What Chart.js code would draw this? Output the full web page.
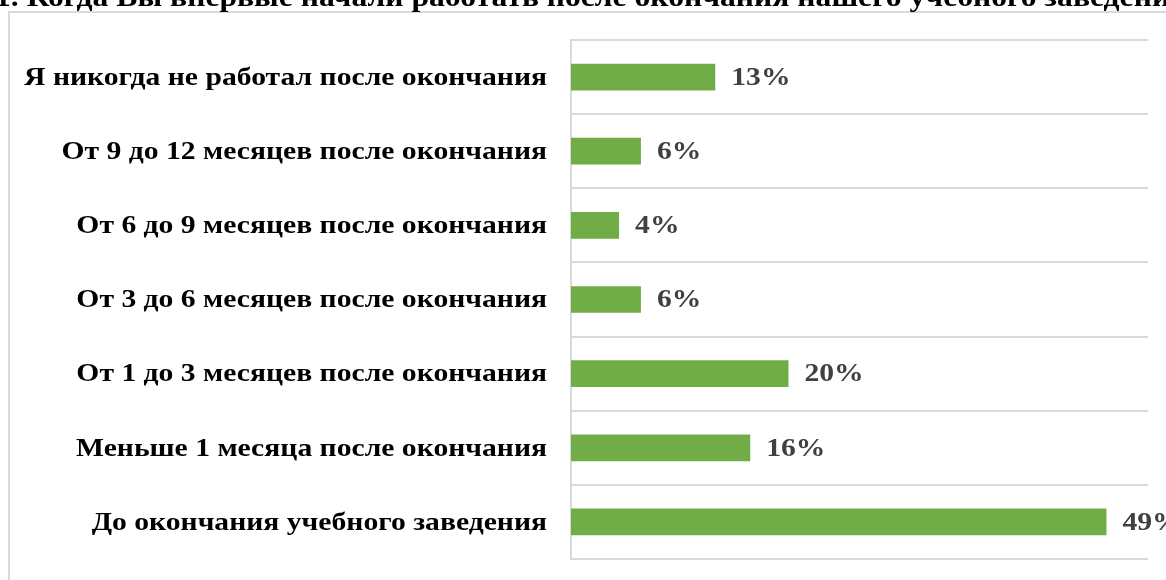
<!DOCTYPE html>
<html lang="ru">
<head>
<meta charset="utf-8">
<script src="https://cdn.jsdelivr.net/npm/chart.js@4/dist/chart.umd.min.js"></script>
<style>
  html, body { margin: 0; padding: 0; background: #fff; overflow: hidden; }
  #page { position: relative; width: 1166px; height: 580px; overflow: hidden; }
  #frame {
    position: absolute; left: 8px; top: 11px; width: 1300px; height: 700px;
    border: 2px solid #d9d9d9; box-sizing: border-box;
  }
  #myChart { position: absolute; left: 0; top: 0; }
  #title {
    position: absolute; left: -5px; top: -17px; white-space: nowrap;
    font: bold 28px "Liberation Serif", "Times New Roman", serif; line-height: 28px; color: #000;
    transform: scaleX(1.13); transform-origin: left top;
  }
</style>
</head>
<body>
<div id="page">
  <div id="frame"></div>
  <canvas id="myChart" width="1166" height="580"></canvas>
  <div id="title">1. Когда Вы впервые начали работать после окончания нашего учебного заведения?</div>
</div>
<script>
// categorias (de cima para baixo)
const categories = [
  "Я никогда не работал после окончания",
  "От 9 до 12 месяцев после окончания",
  "От 6 до 9 месяцев после окончания",
  "От 3 до 6 месяцев после окончания",
  "От 1 до 3 месяцев после окончания",
  "Меньше 1 месяца после окончания",
  "До окончания учебного заведения"
];
// valores em %
const values = [13.2, 6.4, 4.4, 6.4, 19.9, 16.4, 49];

const ctx = document.getElementById("myChart");
const stretch = 1.14; // o texto original está um pouco esticado na horizontal

// rótulos das categorias (esticados) + valores à direita de cada barra
const textLabels = {
  id: "textLabels",
  afterDatasetsDraw(chart) {
    const c = chart.ctx;
    const yScale = chart.scales.y;
    c.save();
    c.textBaseline = "middle";

    c.font = 'bold 26px "Liberation Serif", serif';
    c.fillStyle = "#000";
    c.textAlign = "right";
    categories.forEach((label, i) => {
      c.save();
      c.translate(yScale.right - 24, yScale.getPixelForTick(i) + 1);
      c.scale(stretch, 1);
      c.fillText(label, 0, 0);
      c.restore();
    });

    c.fillStyle = "#404040";
    c.textAlign = "left";
    chart.getDatasetMeta(0).data.forEach((bar, i) => {
      c.save();
      c.translate(bar.x + 16, bar.y + 1);
      c.scale(stretch, 1);
      c.fillText(Math.round(values[i]) + "%", 0, 0);
      c.restore();
    });
    c.restore();
  }
};

const myChart = new Chart(ctx, {
  type: "bar",
  data: {
    labels: categories,
    datasets: [{
      data: values,
      backgroundColor: "#70ad47",
      borderWidth: 0,
      categoryPercentage: 1,
      barPercentage: 0.36
    }]
  },
  options: {
    indexAxis: "y",
    responsive: false,
    animation: false,
    layout: { padding: { top: 40, bottom: 21, right: 18, left: 0 } },
    plugins: { legend: { display: false }, tooltip: { enabled: false } },
    scales: {
      x: { display: false, min: 0, max: 52.8 },
      y: {
        grid: { color: "#d9d9d9", lineWidth: 2, drawTicks: false },
        border: { display: true, color: "#d9d9d9", width: 2 },
        ticks: { display: false },
        afterFit(scale) { scale.width = 571; }
      }
    }
  },
  plugins: [textLabels]
});
</script>
</body>
</html>
